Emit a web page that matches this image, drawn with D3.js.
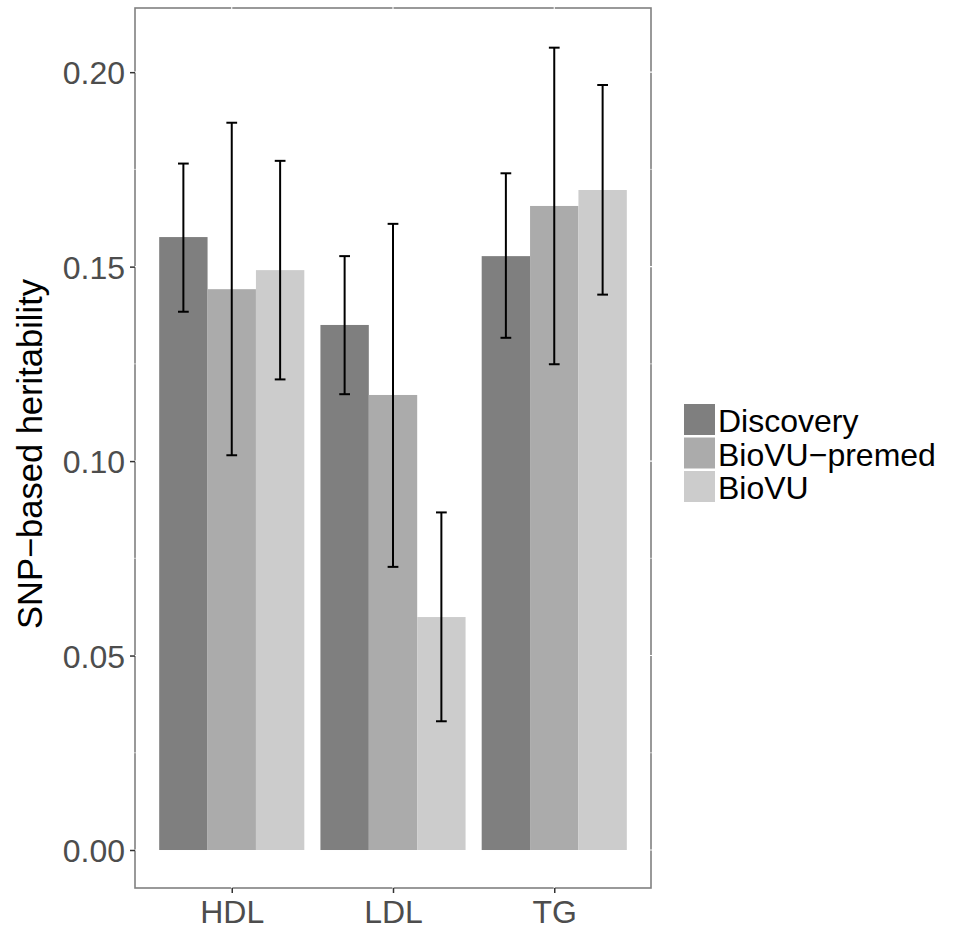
<!DOCTYPE html>
<meta charset="utf-8">
<style>
body { margin: 0; background: #fff; }
text { font-family: "Liberation Sans", Arial, sans-serif; }
.tick-label { font-size: 32px; fill: #4d4d4d; }
.legend-label { font-size: 32px; fill: #000; }
</style>
<svg width="960" height="930"></svg>
<script src="https://cdn.jsdelivr.net/npm/d3@7"></script>
<script>

// data
var traits = ["HDL", "LDL", "TG"];
var cohorts = ["Discovery", "BioVU\u2212premed", "BioVU"];
var colors = ["#7f7f7f", "#ababab", "#cccccc"];

var discovery = [0.1576, 0.1350, 0.1527];
var premed    = [0.1442, 0.1170, 0.1656];
var biovu     = [0.1491, 0.0599, 0.1697];

var discoveryLo = [0.1384, 0.1172, 0.1317];
var discoveryHi = [0.1765, 0.1527, 0.1740];
var premedLo    = [0.1015, 0.0728, 0.1249];
var premedHi    = [0.1870, 0.1610, 0.2063];
var biovuLo     = [0.1210, 0.0331, 0.1428];
var biovuHi     = [0.1772, 0.0868, 0.1967];

var yTicks = [0, 0.05, 0.10, 0.15, 0.20];
var yMinor = [0.025, 0.075, 0.125, 0.175];

var values = [discovery, premed, biovu],
    lows = [discoveryLo, premedLo, biovuLo],
    highs = [discoveryHi, premedHi, biovuHi];

var rows = [];
traits.forEach(function(t, i) {
  cohorts.forEach(function(c, j) {
    rows.push({trait: t, cohort: c, ci: j, v: values[j][i], lo: lows[j][i], hi: highs[j][i]});
  });
});

var svg = d3.select("svg");
var panel = {left: 135, right: 651, top: 8, bottom: 888};

var x = d3.scalePoint()
    .domain(traits)
    .range([panel.left, panel.right])
    .padding(0.6);
var step = x.step();

var xi = d3.scaleBand()
    .domain(cohorts)
    .range([-0.45 * step, 0.45 * step]);

var y = d3.scaleLinear()
    .domain([-0.00977, 0.2165])
    .range([panel.bottom, panel.top]);

// panel background + border
svg.append("rect")
    .attr("x", panel.left)
    .attr("y", panel.top)
    .attr("width", panel.right - panel.left)
    .attr("height", panel.bottom - panel.top)
    .attr("fill", "#fff")
    .attr("stroke", "#808080")
    .attr("stroke-width", 1.6);

// white grid (only shows where it crosses the border)
var grid = svg.append("g").attr("stroke", "#fff");
grid.selectAll(".gy").data(yTicks).enter().append("line")
    .attr("x1", panel.left - 1).attr("x2", panel.right + 1)
    .attr("y1", y).attr("y2", y)
    .attr("stroke-width", 1.1);
grid.selectAll(".gm").data(yMinor).enter().append("line")
    .attr("x1", panel.left - 1).attr("x2", panel.right + 1)
    .attr("y1", y).attr("y2", y)
    .attr("stroke-width", 0.6);
grid.selectAll(".gx").data(traits).enter().append("line")
    .attr("y1", panel.top - 1).attr("y2", panel.bottom + 1)
    .attr("x1", x).attr("x2", x)
    .attr("stroke-width", 1.1);

// bars
svg.append("g").selectAll("rect")
    .data(rows)
  .enter().append("rect")
    .attr("x", function(d) { return x(d.trait) + xi(d.cohort); })
    .attr("width", xi.bandwidth())
    .attr("y", function(d) { return y(d.v); })
    .attr("height", function(d) { return y(0) - y(d.v); })
    .attr("fill", function(d) { return colors[d.ci]; });

// error bars
var cap = step * 0.2 / 3 / 2;
var eb = svg.append("g")
    .attr("stroke", "#000")
    .attr("stroke-width", 2)
  .selectAll("g")
    .data(rows)
  .enter().append("g")
    .attr("transform", function(d) {
      return "translate(" + (x(d.trait) + xi(d.cohort) + xi.bandwidth() / 2) + ",0)";
    });
eb.append("line")
    .attr("y1", function(d) { return y(d.lo); })
    .attr("y2", function(d) { return y(d.hi); });
eb.append("line")
    .attr("x1", -cap).attr("x2", cap)
    .attr("y1", function(d) { return y(d.hi); })
    .attr("y2", function(d) { return y(d.hi); });
eb.append("line")
    .attr("x1", -cap).attr("x2", cap)
    .attr("y1", function(d) { return y(d.lo); })
    .attr("y2", function(d) { return y(d.lo); });

// y axis
var yAxis = svg.append("g")
    .attr("transform", "translate(" + panel.left + ",0)")
    .call(d3.axisLeft(y).tickValues(yTicks).tickFormat(d3.format(".2f")).tickSize(5).tickPadding(5));
yAxis.select(".domain").remove();
yAxis.selectAll(".tick line").attr("stroke", "#333").attr("stroke-width", 1.5);
yAxis.selectAll(".tick text")
    .attr("class", "tick-label")
    .attr("font-family", null).attr("font-size", null)
    .attr("fill", "#4d4d4d")
    .attr("dy", "0.36em");

// x axis
var xAxis = svg.append("g")
    .attr("transform", "translate(0," + panel.bottom + ")")
    .call(d3.axisBottom(x).tickSize(5).tickPadding(5));
xAxis.select(".domain").remove();
xAxis.selectAll(".tick line").attr("stroke", "#333").attr("stroke-width", 1.5);
xAxis.selectAll(".tick text")
    .attr("class", "tick-label")
    .attr("font-family", null).attr("font-size", null)
    .attr("fill", "#4d4d4d")
    .attr("dy", null)
    .attr("y", 35);

// y title
svg.append("text")
    .attr("transform", "translate(42,454) rotate(-90)")
    .attr("text-anchor", "middle")
    .style("font-size", "34.5px")
    .text("SNP\u2212based heritability");

// legend
var legend = svg.append("g")
    .attr("transform", "translate(684,404)")
  .selectAll("g")
    .data(cohorts)
  .enter().append("g")
    .attr("transform", function(d, i) { return "translate(0," + (i * 33.5) + ")"; });
legend.append("rect")
    .attr("width", 31)
    .attr("height", 31)
    .attr("fill", function(d, i) { return colors[i]; });
legend.append("text")
    .attr("class", "legend-label")
    .attr("x", 34)
    .attr("y", 28)
    .text(function(d) { return d; });

</script>
